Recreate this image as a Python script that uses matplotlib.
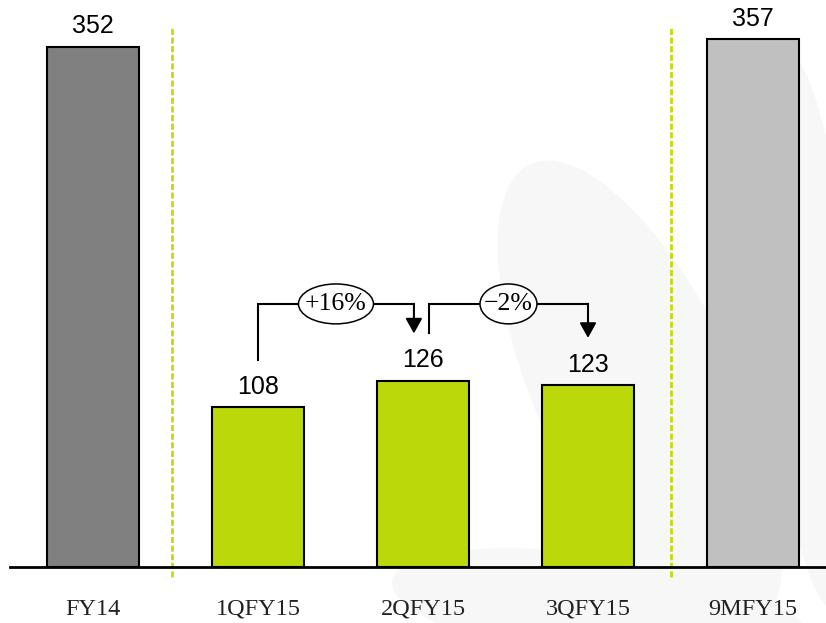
import matplotlib.pyplot as plt
from matplotlib.patches import Ellipse

# data
categories = ['FY14', '1QFY15', '2QFY15', '3QFY15', '9MFY15']
values = [352, 108, 126, 123, 357]
bar_colors = ['#808080', '#bbd80a', '#bbd80a', '#bbd80a', '#c0c0c0']
separators = [0.48, 3.5]
# (from bar, to bar, label)
changes = [(1, 2, '+16%'), (2, 3, '\u22122%')]

fig = plt.figure(figsize=(8.26, 6.23), dpi=100)

# very faint watermark in the background (pixel coords)
bg = fig.add_axes([0, 0, 1, 1], zorder=-1)
bg.set_xlim(0, 826)
bg.set_ylim(623, 0)
bg.axis('off')
for cx, cy, w, h, ang in [(640, 400, 200, 520, -25), (810, 330, 90, 560, -5), (600, 610, 420, 110, 8)]:
    bg.add_patch(Ellipse((cx, cy), w, h, angle=ang, facecolor='#f7f7f7', edgecolor='none'))

# main axes: bottom spine sits on the baseline
ax = fig.add_axes([0, 56 / 623, 1, 567 / 623])
ax.patch.set_alpha(0)
ax.set_xlim(-93 / 165, 733 / 165)
ax.set_ylim(0, 567 / 1.478)

for s in ['top', 'right', 'left']:
    ax.spines[s].set_visible(False)
ax.spines['bottom'].set_linewidth(2)
ax.spines['bottom'].set_bounds(-83 / 165, 733 / 165)
ax.set_yticks([])
ax.set_xticks(range(len(categories)))
ax.set_xticklabels(categories, fontsize=17.5, family='Liberation Serif', color='#222222')
ax.tick_params(axis='x', length=0, pad=23)

ax.bar(range(len(values)), values, width=0.56, color=bar_colors,
       edgecolor='black', linewidth=1.5, zorder=3)

for i, v in enumerate(values):
    ax.annotate(str(v), (i, v), xytext=(0, 6), textcoords='offset points',
                ha='center', va='bottom', fontsize=18, family='Liberation Sans')

# dashed separators
ax.vlines(separators, -6.8, 364.7, colors='#c4da0c', linestyles=(0, (2.2, 0.9)),
          linewidth=2, clip_on=False, zorder=2)

# growth brackets
offsets = [(0.0, -0.055), (0.036, 0.0)]
ell_w = [0.4545, 0.345]
for k, (a, b, lab) in enumerate(changes):
    xs = a + offsets[k][0]
    xe = b + offsets[k][1]
    top = max(values[a], values[b]) + 52
    ys = values[a] + 32
    tip = values[b] + 32
    ax.plot([xs, xs, xe], [ys, top, top], color='black', lw=1.5, zorder=4,
            solid_joinstyle='miter')
    ax.annotate('', xy=(xe, tip), xytext=(xe, top),
                arrowprops=dict(arrowstyle='-|>,head_length=0.45,head_width=0.25',
                                mutation_scale=20, color='black', lw=1.5,
                                shrinkA=0, shrinkB=0), zorder=4)
    xm = (xs + xe) / 2
    ax.add_patch(Ellipse((xm, top), ell_w[k], 27, facecolor='white',
                         edgecolor='black', linewidth=1.1, zorder=5))
    ax.text(xm, top, lab, ha='center', va='center', fontsize=18.5,
            family='Liberation Serif', zorder=6)

fig.savefig('out.png', dpi=100)
